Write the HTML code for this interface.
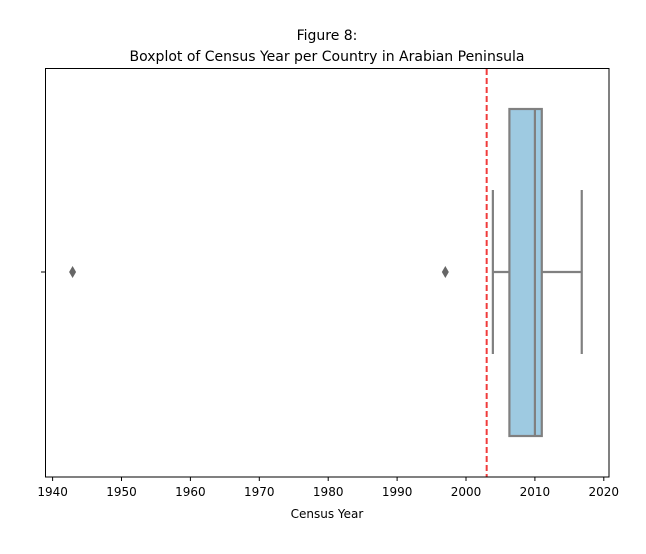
<!DOCTYPE html>
<html><head><meta charset="utf-8"><style>
body{margin:0;background:#fff;font-family:"DejaVu Sans","Liberation Sans",sans-serif;}
svg text{font-family:"DejaVu Sans","Liberation Sans",sans-serif;}
</style></head><body>
<svg id="chart" width="646" height="550" xmlns="http://www.w3.org/2000/svg">
<text x="327" y="40" font-size="14" text-anchor="middle" fill="#000">Figure 8:</text>
<text x="327" y="61" font-size="14" text-anchor="middle" fill="#000">Boxplot of Census Year per Country in Arabian Peninsula</text>
<g id="plot"></g>
<rect x="45.5" y="68.5" width="563.5" height="408.5" fill="none" stroke="#000" stroke-width="1"/>
<text x="327" y="518" font-size="12" text-anchor="middle" fill="#000">Census Year</text>
</svg>
<script>
const xTicks=[1940,1950,1960,1970,1980,1990,2000,2010,2020];
const boxStats=[2003.9,2006.3,2010,2011,2016.8]; // whislo,q1,median,q3,whishi
const outliers=[1942.9,1997];
const refLine=[2003];
const svgNS="http://www.w3.org/2000/svg";
const g=document.getElementById('plot');
const X=v=>466+(v-2000)*6.89;
const cy=272;
function mk(t,a){const e=document.createElementNS(svgNS,t);for(const k in a)e.setAttribute(k,a[k]);g.appendChild(e);return e;}
xTicks.forEach(t=>{
  const l=mk('line',{x1:X(t),x2:X(t),y1:477,y2:481,stroke:'#000'});
  
  
  const tx=mk('text',{x:X(t),y:496,'font-size':12,'text-anchor':'middle',fill:'#000'});
  tx.textContent=t;
  
  
});
const yt=mk('line',{x1:41,x2:45,y1:cy,y2:cy,stroke:'#000'});


const [lo,q1,med,q3,hi]=boxStats;
const gc='#808080';
const w1=mk('line',{x1:X(lo),x2:X(q1),y1:cy,y2:cy,stroke:gc,'stroke-width':2.2});


const w2=mk('line',{x1:X(q3),x2:X(hi),y1:cy,y2:cy,stroke:gc,'stroke-width':2.2});


const c1=mk('line',{x1:X(lo),x2:X(lo),y1:190,y2:354,stroke:gc,'stroke-width':2.2});


const c2=mk('line',{x1:X(hi),x2:X(hi),y1:190,y2:354,stroke:gc,'stroke-width':2.2});


const b=mk('rect',{x:X(q1),y:109,width:X(q3)-X(q1),height:327,fill:'#9ecae1',stroke:gc,'stroke-width':2.2});


const m=mk('line',{x1:X(med),x2:X(med),y1:109,y2:436,stroke:gc,'stroke-width':2.2});


outliers.forEach(o=>{
  const p=mk('path',{d:`M${X(o)},${cy-6} L${X(o)+3.5},${cy} L${X(o)},${cy+6} L${X(o)-3.5},${cy} Z`,fill:'#666'});
  
  
});
refLine.forEach(r=>{
  const l=mk('line',{x1:X(r),x2:X(r),y1:69,y2:477,stroke:'#f03c3c','stroke-width':2,'stroke-dasharray':'6,3'});
  
  
});
</script>
</body></html>
